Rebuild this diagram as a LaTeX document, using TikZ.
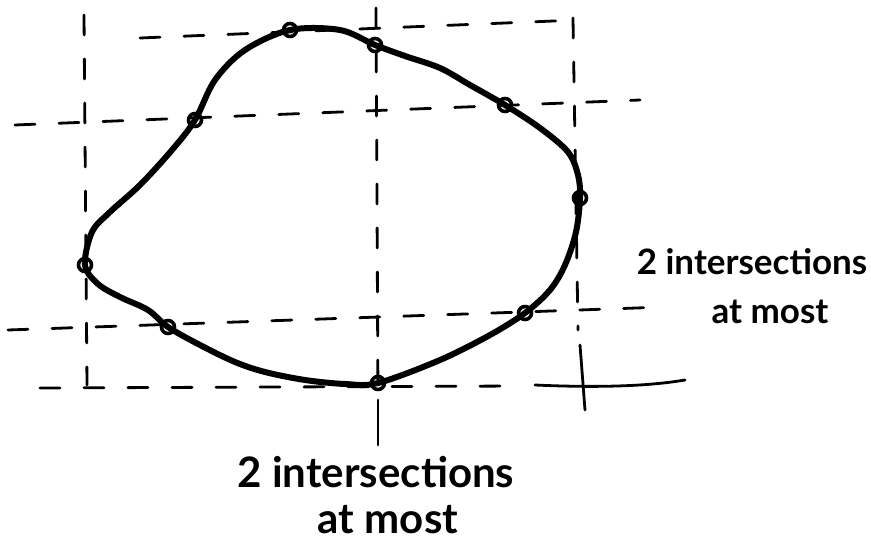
\documentclass[tikz,border=0pt]{standalone}
\usepackage{fontspec}
\setmainfont{Lato}
\begin{document}
\begin{tikzpicture}[x=1pt,y=-1pt,
  gridline/.style={line width=2.8pt, dash pattern=on 20pt off 24pt, line cap=round},
  solidline/.style={line width=2.8pt, line cap=round},
  curve/.style={line width=6pt, line cap=round, line join=round},
  dotmark/.style={circle, draw, line width=3.6pt, minimum size=13pt, inner sep=0pt},
  lbl/.style={font=\fontsize{42}{48}\selectfont\bfseries, align=center, inner sep=0pt},
  lblr/.style={font=\fontsize{35}{42}\selectfont\bfseries, align=center, inner sep=0pt}]
\useasboundingbox (0,0) rectangle (871,548);

% grid coordinates
\coordinate (v1a) at (84,15);  \coordinate (v1b) at (87,385);
\coordinate (v2a) at (376,8);  \coordinate (v2b) at (378,400); \coordinate (v2c) at (378,445);
\coordinate (v3a) at (573,18); \coordinate (v3b) at (578,330);
\coordinate (v3c) at (580,345); \coordinate (v3d) at (585,410);
\coordinate (h1a) at (140,38); \coordinate (h1b) at (578,20);
\coordinate (h2a) at (15,125); \coordinate (h2b) at (640,100);
\coordinate (h3a) at (8,330);  \coordinate (h3b) at (665,307);
\coordinate (h4a) at (40,388); \coordinate (h4b) at (520,386);
\coordinate (h4c) at (535,385); \coordinate (h4d) at (685,380);

\draw[gridline] (v1a) -- (v1b);
\draw[gridline] (v2a) -- (v2b);
\draw[solidline] (v2b) -- (v2c);
\draw[gridline] (v3a) -- (v3b);
\draw[solidline] (v3c) -- (v3d);
\draw[gridline] (h1a) -- (h1b);
\draw[gridline] (h2a) -- (h2b);
\draw[gridline] (h3a) -- (h3b);
\draw[gridline] (h4a) -- (h4b);
\draw[solidline] (h4c) .. controls (600,388) and (650,386) .. (h4d);

% closed curve
\draw[curve] plot[smooth cycle, tension=0.55] coordinates {
  (85,265) (92,232) (110,212) (140,185) (172,150) (195,120) (215,80) (245,50)
  (290,30) (340,30) (375,45) (405,56) (440,68) (470,85) (505,105) (540,128)
  (568,152) (578,175) (580,198) (576,232) (565,265) (550,290) (525,313)
  (490,335) (440,360) (378,383) (345,384) (305,380) (265,372) (235,362)
  (200,345) (168,327) (148,310) (120,297) (98,284)};

% intersection marks
\node[dotmark] (p1) at (290,30) {};
\node[dotmark] (p2) at (375,45) {};
\node[dotmark] (p3) at (505,105) {};
\node[dotmark] (p4) at (580,198) {};
\node[dotmark] (p5) at (525,313) {};
\node[dotmark] (p6) at (378,383) {};
\node[dotmark] (p7) at (168,327) {};
\node[dotmark] (p8) at (85,265) {};
\node[dotmark] (p9) at (195,120) {};

% labels
\node[lblr] (rt) at (752,262) {2 intersections};
\node[lblr] (rb) at (770,312) {at most};
\node[lbl] (bt) at (376,472) {2 intersections};
\node[lbl] (bb) at (388,520) {at most};
\end{tikzpicture}
\end{document}
